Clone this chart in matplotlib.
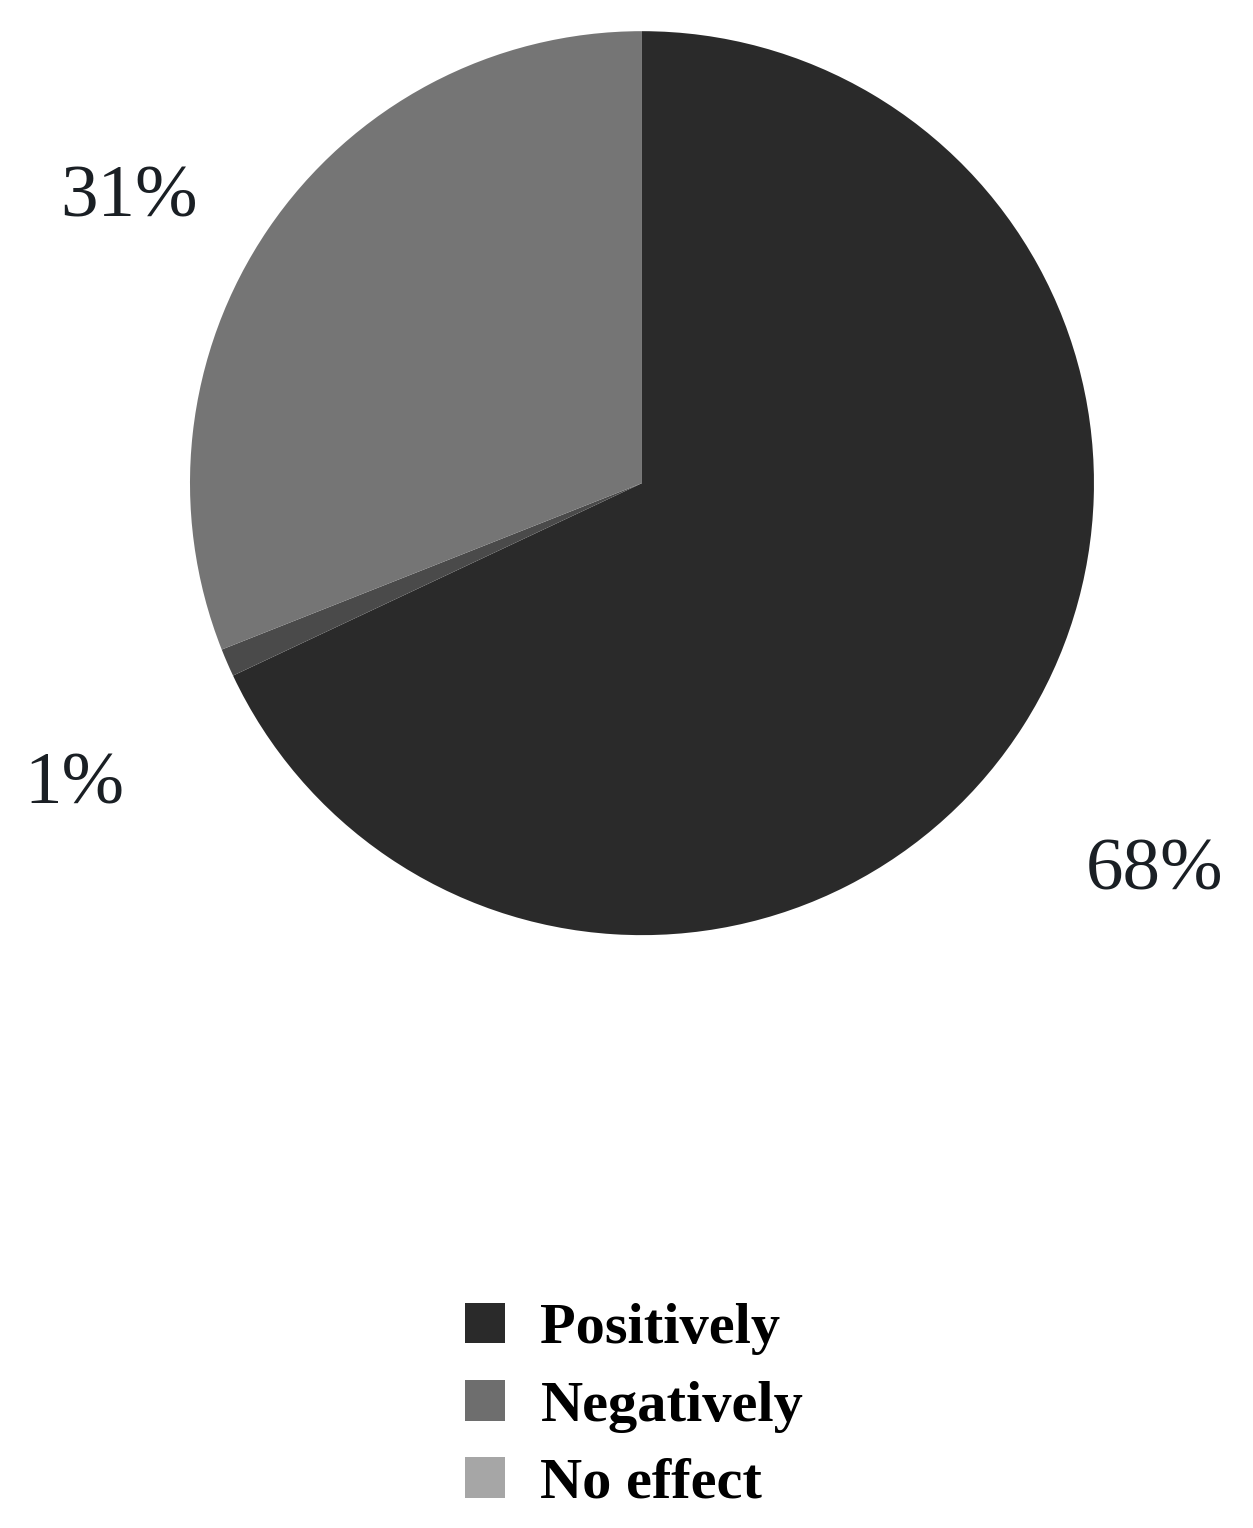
import matplotlib
matplotlib.use("Agg")
from matplotlib import pyplot as plt
from matplotlib.patches import Patch

# data
labels = ["Positively", "Negatively", "No effect"]
values = [68, 1, 31]
pie_colors = ["#2a2a2a", "#4a4a4a", "#757575"]
legend_colors = ["#2a2a2a", "#6e6e6e", "#a6a6a6"]

# where the percentage labels sit (data coords, pie radius = 1)
label_pos = [(1.135, -0.86), (-1.255, -0.67), (-1.135, 0.63)]

fig = plt.figure(figsize=(12.53, 15.28), dpi=100)
ax = fig.add_axes([0.1516, 0.388, 0.7215, 0.5916])

ax.pie(values, colors=pie_colors, startangle=90, counterclock=False,
       wedgeprops={"linewidth": 0})
ax.set_xlim(-1, 1)
ax.set_ylim(-1, 1)
ax.set_aspect("equal")

for v, (x, y) in zip(values, label_pos):
    ax.text(x, y, f"{v}%", ha="center", va="center", fontsize=54,
            family="Liberation Serif", color="#1a1f24", clip_on=False)

handles = [Patch(facecolor=c, edgecolor="none") for c in legend_colors]
fig.legend(handles, labels, loc="upper center", bbox_to_anchor=(0.506, 1 - 1250 / 1528),
           frameon=False, prop={"family": "Liberation Serif", "weight": "bold", "size": 42},
           handlelength=0.7, handleheight=0.7, handletextpad=0.6, labelspacing=0.42)

plt.savefig("out.png", dpi=100)
